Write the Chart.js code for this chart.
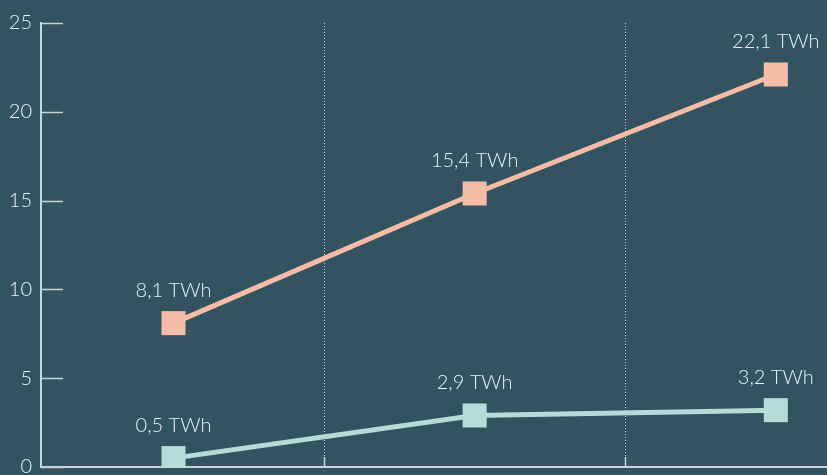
<!DOCTYPE html>
<html>
<head>
<meta charset="utf-8">
<script src="https://cdn.jsdelivr.net/npm/chart.js@4"></script>
<style>
  html, body { margin: 0; padding: 0; background: #32535f; }
  #wrap { width: 827px; height: 475px; }
</style>
</head>
<body>
<div id="wrap"><canvas id="myChart"></canvas></div>
<script>
// positions of the three periods on the x axis
const periods = [0, 1, 2];
const seriesHigh = [8.1, 15.4, 22.1];
const seriesLow = [0.5, 2.9, 3.2];
const yTicks = [0, 5, 10, 15, 20, 25];
const dividers = [0.5, 1.5];

const axisColor = '#c9d5d8';
const textColor = '#eef2f3';
const fontFamily = 'Lato, "Open Sans", sans-serif';

Chart.defaults.font.family = fontFamily;
Chart.defaults.font.size = 20;
Chart.defaults.font.weight = 300;
Chart.defaults.color = textColor;

const toPoints = (vals) => vals.map((v, i) => ({ x: periods[i], y: v }));

// y ticks drawn inward, short solid ticks at dividers, value labels
const decorations = {
    id: 'decorations',
    afterDatasetsDraw(chart) {
        const { ctx, chartArea, scales } = chart;
        ctx.save();
        ctx.strokeStyle = axisColor;
        ctx.lineWidth = 1.5;
        yTicks.forEach(v => {
            const y = Math.round(scales.y.getPixelForValue(v)) + 0.5;
            ctx.beginPath();
            ctx.moveTo(chartArea.left, y);
            ctx.lineTo(chartArea.left + 22, y);
            ctx.stroke();
        });
        dividers.forEach(v => {
            const x = Math.round(scales.x.getPixelForValue(v)) + 0.5;
            ctx.beginPath();
            ctx.moveTo(x, chartArea.bottom);
            ctx.lineTo(x, chartArea.bottom - 10);
            ctx.stroke();
        });

        ctx.fillStyle = textColor;
        ctx.font = '300 20px ' + fontFamily;
        ctx.textBaseline = 'middle';
        ctx.textAlign = 'center';
        chart.data.datasets.forEach((ds, di) => {
            const meta = chart.getDatasetMeta(di);
            meta.data.forEach((pt, i) => {
                const txt = ds.data[i].y.toFixed(1).replace('.', ',') + ' TWh';
                const w = ctx.measureText(txt).width;
                let x = pt.x;
                if (x + w / 2 > chart.width) x = chart.width - w / 2;
                ctx.fillText(txt, x, pt.y - 33);
            });
        });
        ctx.restore();
    }
};

// drop the label overflow padding so the plot reaches the edges
const noPad = (axis) => {
    axis.paddingTop = 0;
    axis.paddingBottom = 0;
    axis.paddingLeft = 0;
    axis.paddingRight = 0;
};

const config = {
    type: 'line',
    data: {
        datasets: [
            {
                data: toPoints(seriesHigh),
                borderColor: '#f5bca8',
                backgroundColor: '#f5bca8',
                borderWidth: 5,
                pointStyle: 'rect',
                pointRadius: 17,
                pointBorderWidth: 0,
            },
            {
                data: toPoints(seriesLow),
                borderColor: '#b6dcd8',
                backgroundColor: '#b6dcd8',
                borderWidth: 5,
                pointStyle: 'rect',
                pointRadius: 17,
                pointBorderWidth: 0,
            },
        ],
    },
    options: {
        responsive: true,
        maintainAspectRatio: false,
        animation: false,
        layout: { autoPadding: false, padding: { top: 23, bottom: 8, right: 0, left: 0 } },
        plugins: {
            legend: { display: false },
            tooltip: { enabled: false },
        },
        scales: {
            x: {
                type: 'linear',
                min: -0.44,
                max: 2.17,
                afterBuildTicks: (axis) => { axis.ticks = dividers.map(v => ({ value: v })); },
                afterFit: (axis) => { axis.height = 0; noPad(axis); },
                ticks: { display: false },
                grid: {
                    color: axisColor,
                    lineWidth: 1,
                    drawTicks: false,
                },
                border: { color: axisColor, width: 2, dash: [1, 2] },
            },
            y: {
                min: 0,
                max: 25,
                afterBuildTicks: (axis) => { axis.ticks = yTicks.map(v => ({ value: v })); },
                afterFit: (axis) => { axis.width = 41; noPad(axis); },
                ticks: { padding: 9, color: textColor },
                grid: { display: false, drawTicks: false },
                border: { color: axisColor, width: 2 },
            },
        },
    },
    plugins: [decorations],
};

const myChart = new Chart(document.getElementById('myChart'), config);
</script>
</body>
</html>
